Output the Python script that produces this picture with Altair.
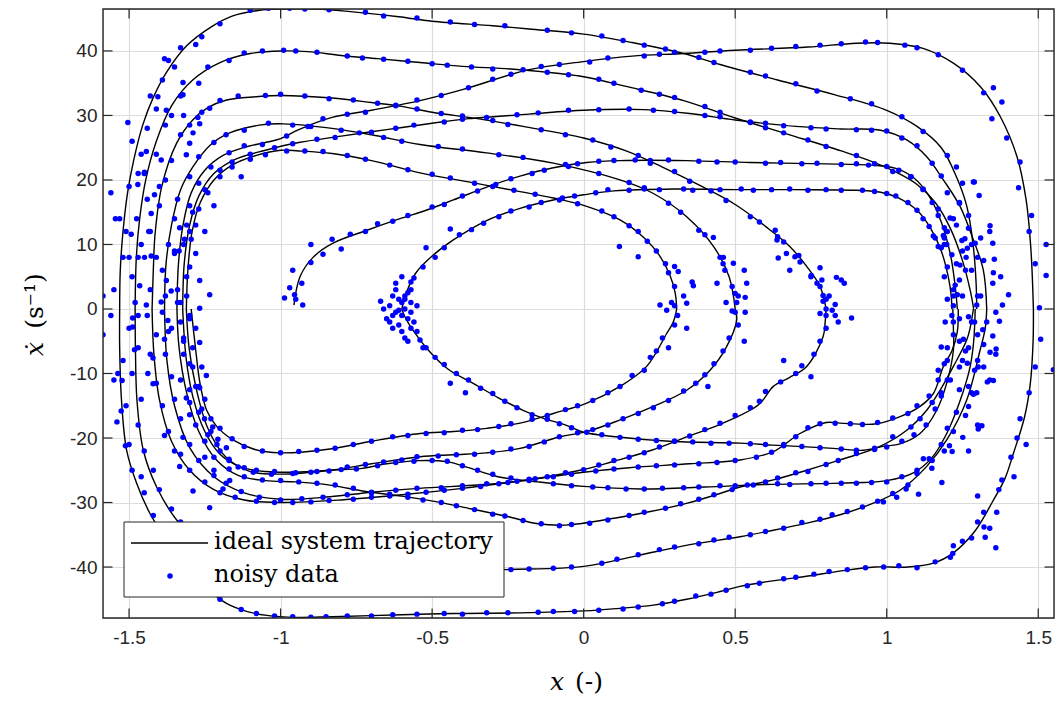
import altair as alt
import pandas as pd

X_TICKS = [-1.5, -1, -0.5, 0, 0.5, 1, 1.5]
Y_TICKS = [-40, -30, -20, -10, 0, 10, 20, 30, 40]

# ideal system trajectory, traced strand by strand (x, xdot)
TRAJ = {
    "T1": [(-1.531,0),(-1.529,6),(-1.52,12),(-1.505,18),(-1.485,23),(-1.455,28.5),(-1.42,32.8),(-1.375,36.8),(-1.31,40.8),(-1.23,43.7),(-1.16,45.4),(-1.07,46.3),(-1.0,46.5),(-0.88,46.5),(-0.77,46.1),(-0.61,45.3),(-0.5,44.6),(-0.3,43.9),(-0.18,43.4),(0,42.6),(0.16,41.3),(0.33,39.6),(0.45,37.9),(0.64,35.5),(0.83,33.2),(1.0,30.8),(1.1,28.3),(1.18,25),(1.23,20.5),(1.265,15.8),(1.285,10),(1.295,4),(1.297,0)],
    "C2": [(-1.48,0),(-1.476,8),(-1.465,14),(-1.445,20),(-1.41,26),(-1.36,31.5),(-1.29,35.5),(-1.2,38.2),(-1.1,39.6),(-1.0,40.0),(-0.91,39.9),(-0.8,39.3),(-0.68,38.8),(-0.54,38.2),(-0.4,37.6),(-0.24,37.2),(-0.08,36.5),(0,36.0),(0.14,34.5),(0.33,32.3),(0.5,29.6),(0.68,27.0),(0.85,24.5),(0.96,22.7),(1.04,21.0),(1.1,19.3),(1.16,16.5),(1.21,12.5),(1.25,7.5),(1.275,3),(1.287,0)],
    "I3t": [(-1.424,0),(-1.42,6),(-1.414,11.7),(-1.392,19),(-1.343,25.7),(-1.29,29.3),(-1.24,31.2),(-1.178,32.4),(-1.08,32.9),(-1.0,33.1),(-0.83,32.7),(-0.7,32.0),(-0.6,31.4),(-0.5,30.5),(-0.35,29.5),(-0.2,28.3),(0,26.5),(0.14,24.5),(0.26,22),(0.39,19),(0.5,16.2),(0.6,12.8),(0.68,9.7),(0.736,6.6),(0.78,3.5),(0.8,0)],
    "I2t": [(-1.383,0),(-1.378,7),(-1.36,13),(-1.33,18.5),(-1.29,22),(-1.23,25.5),(-1.168,27.3),(-1.07,28.5),(-0.99,28.7),(-0.83,28.0),(-0.7,27.0),(-0.54,25.5),(-0.32,24.2),(-0.1,22.6),(0.12,20),(0.23,17.9),(0.34,14.3),(0.43,9.6),(0.48,5),(0.5,0)],
    "T2": [(-1.342,0),(-1.337,7),(-1.322,13),(-1.295,18),(-1.25,21.5),(-1.19,23.8),(-1.124,25.0),(-1.05,25.8),(-1.0,26.4),(-0.94,27.8),(-0.83,29.7),(-0.7,30.8),(-0.54,32.3),(-0.4,34.0),(-0.18,37.1),(0,38.35),(0.16,39.2),(0.33,39.6),(0.5,40.1),(0.74,40.6),(0.9,41.2),(1.01,41.2),(1.12,40.4),(1.22,38.1),(1.31,34.4),(1.375,29.8),(1.43,23.6),(1.46,16.9),(1.476,9.1),(1.484,0)],
    "Cf": [(-1.323,0),(-1.318,7),(-1.3,13),(-1.27,17.5),(-1.22,21),(-1.15,23.2),(-1.05,24.6),(-0.94,25.8),(-0.8,26.8),(-0.65,27.8),(-0.5,28.8),(-0.38,29.5),(-0.18,30.2),(0,30.8),(0.2,30.9),(0.35,30.3),(0.5,29.3),(0.7,28.3),(0.85,27.9),(0.98,27.7),(1.066,26.2),(1.132,23.6),(1.187,20.0),(1.242,15.9),(1.286,10.7),(1.319,6.0),(1.33,0)],
    "I1t": [(-1.311,0),(-1.306,6),(-1.292,12),(-1.265,16.5),(-1.22,20),(-1.16,22.3),(-1.08,23.8),(-1.0,24.6),(-0.94,24.5),(-0.83,24.1),(-0.7,23),(-0.54,21.1),(-0.38,19.7),(-0.21,18.2),(-0.1,17.2),(0.01,15.9),(0.12,13.8),(0.2,11),(0.25,8.3),(0.285,5.2),(0.302,2.5),(0.307,0)],
    "S": [(-0.956,0.6),(-0.936,5),(-0.893,8),(-0.827,10.2),(-0.715,12.2),(-0.606,14.0),(-0.52,15.3),(-0.43,16.9),(-0.32,18.9),(-0.21,20.6),(-0.1,21.9),(0.01,22.7),(0.12,23.0),(0.34,23.0),(0.55,22.7),(0.8,22.5),(0.95,22.3),(1.03,21.8),(1.09,20.3),(1.14,17.5),(1.18,13.5),(1.21,8.5),(1.226,3.5),(1.233,0)],
    "C18": [(-0.6,0),(-0.585,2.5),(-0.555,5.5),(-0.5,8.2),(-0.43,10.7),(-0.32,13.7),(-0.21,15.6),(-0.1,16.9),(0,17.7),(0.1,18.3),(0.3,18.6),(0.5,18.5),(0.7,18.5),(0.9,18.4),(0.98,18.1),(1.04,17.2),(1.1,15.3),(1.145,12.5),(1.18,9),(1.203,5),(1.213,2),(1.215,0)],
    "BT2": [(1.484,0),(1.483,-5),(1.474,-11.5),(1.455,-16.7),(1.418,-22.4),(1.39,-26.3),(1.35,-29.8),(1.29,-34.5),(1.22,-37.8),(1.154,-39.4),(1.07,-40.0),(0.96,-40.0),(0.85,-40.6),(0.74,-41.4),(0.63,-42.1),(0.516,-43.0),(0.45,-43.8),(0.34,-45.0),(0.23,-45.9),(0.12,-46.4),(0,-46.8),(-0.21,-47.1),(-0.43,-47.2),(-0.6,-47.4),(-0.83,-47.7),(-0.95,-47.8),(-1.045,-47.5),(-1.11,-46.9),(-1.18,-45.6),(-1.25,-43),(-1.32,-39.5),(-1.38,-35.5),(-1.431,-31.7),(-1.475,-27.0),(-1.508,-21.9),(-1.525,-14.1),(-1.531,-6),(-1.531,0)],
    "B133": [(1.33,0),(1.325,-3),(1.308,-6.4),(1.264,-14.1),(1.198,-20.3),(1.132,-24.4),(1.044,-28.1),(0.956,-30.1),(0.846,-31.9),(0.736,-33.2),(0.626,-34.3),(0.516,-35.3),(0.342,-36.6),(0.17,-38.3),(0,-39.9),(-0.26,-40.4),(-0.6,-40.8),(-0.9,-40.6),(-1.1,-39.5),(-1.25,-37),(-1.343,-32.7),(-1.409,-27.6),(-1.453,-21.9),(-1.474,-14.1),(-1.479,-6),(-1.48,0)],
    "B1294": [(1.292,0),(1.287,-5),(1.275,-9),(1.24,-14.5),(1.198,-19.3),(1.15,-23),(1.088,-25.4),(1.0,-26.6),(0.846,-27.0),(0.6,-27.2),(0.4,-27.6),(0.189,-27.9),(0,-27.5),(-0.15,-26.8),(-0.283,-26.0),(-0.38,-24.6),(-0.448,-23.7),(-0.542,-23.5),(-0.65,-24.0),(-0.731,-24.7),(-0.837,-25.0),(-0.95,-25.3),(-1.05,-25.2),(-1.13,-24.5),(-1.2,-22.5),(-1.25,-19),(-1.29,-13.5),(-1.312,-7.5),(-1.323,0)],
    "B1286": [(1.286,0),(1.275,-3),(1.264,-4.8),(1.22,-8.9),(1.176,-12.6),(1.132,-15.7),(1.066,-18.8),(0.978,-21.3),(0.846,-23.4),(0.736,-25.0),(0.626,-26.5),(0.516,-27.6),(0.45,-28.6),(0.342,-30.1),(0.22,-31.4),(0.106,-32.4),(-0.059,-33.5),(-0.15,-33.3),(-0.248,-32.2),(-0.37,-31.0),(-0.483,-29.9),(-0.6,-29.0),(-0.719,-28.3),(-0.837,-27.3),(-0.95,-26.8),(-1.05,-26.6),(-1.14,-25.8),(-1.21,-23.5),(-1.27,-19),(-1.31,-13),(-1.335,-6),(-1.342,0)],
    "Ba": [(1.218,0),(1.22,-3),(1.22,-6.4),(1.198,-11.5),(1.165,-15.7),(1.11,-19.3),(1.044,-20.9),(0.989,-21.3),(0.923,-21.9),(0.824,-21.6),(0.625,-21.1),(0.516,-20.8),(0.283,-20.5),(0.106,-19.8),(0,-19.1),(-0.059,-18.0),(-0.13,-17),(-0.2,-15.7),(-0.28,-13.8),(-0.366,-11.5),(-0.448,-9.3),(-0.51,-6.5),(-0.56,-3.5),(-0.59,-1.2),(-0.6,0)],
    "Bb": [(1.236,0),(1.233,-3.5),(1.215,-6.5),(1.187,-8.9),(1.154,-13.1),(1.11,-15.1),(1.044,-16.7),(0.967,-17.8),(0.846,-17.7),(0.8,-17.6),(0.714,-19.3),(0.626,-22.1),(0.516,-23.4),(0.35,-24.0),(0.15,-24.6),(0,-25.3),(-0.2,-26.6),(-0.4,-27.8),(-0.6,-28.8),(-0.8,-29.6),(-1.0,-30.0),(-1.12,-29.6),(-1.22,-28),(-1.3,-25),(-1.36,-20.5),(-1.4,-14),(-1.418,-7),(-1.424,0)],
    "I1b": [(0.307,0),(0.296,-2),(0.274,-3.8),(0.208,-8.9),(0.12,-12),(0.01,-14.6),(-0.1,-16.2),(-0.21,-17.7),(-0.32,-18.5),(-0.43,-19.0),(-0.54,-19.3),(-0.7,-20.5),(-0.837,-21.7),(-1.002,-22.3),(-1.09,-21.7),(-1.157,-20.3),(-1.211,-18.2),(-1.244,-15.7),(-1.266,-11.5),(-1.28,-6.4),(-1.295,0)],
    "I2b": [(0.5,0),(0.505,-1.7),(0.47,-6),(0.417,-9.5),(0.34,-12.6),(0.23,-15.1),(0.12,-17.2),(0.01,-19.0),(-0.078,-19.8),(-0.21,-21.6),(-0.32,-22.3),(-0.43,-22.6),(-0.54,-22.9),(-0.7,-24.0),(-0.837,-25.0),(-1.0,-25.6),(-1.1,-25.2),(-1.18,-23.0),(-1.24,-18.5),(-1.28,-12),(-1.302,-6),(-1.311,0)],
    "I3b": [(0.8,0),(0.797,-2),(0.79,-4.3),(0.736,-8.9),(0.68,-10.6),(0.626,-12),(0.578,-14.8),(0.46,-17.7),(0.342,-19.8),(0.224,-21.9),(0.1,-23.6),(-0.012,-25.0),(-0.248,-26.9),(-0.542,-27.8),(-0.7,-28.4),(-0.837,-29.1),(-1.0,-29.5),(-1.12,-28.5),(-1.22,-26),(-1.3,-21.5),(-1.35,-15),(-1.375,-8),(-1.383,0)],
}

NOISY = {
    "T1": [(-1.55,3),(-1.52,8),(-1.545,14),(-1.5,19),(-1.47,21),(-1.49,26),(-1.44,28),(-1.43,33),(-1.39,35.5),(-1.37,38.5),(-1.33,40.5),(-1.26,42.2),(-1.2,44.2),(-1.1,46.3),(-1.04,46.6),(-0.97,46.6),(-0.92,46.5),(-0.84,46.4),(-0.72,46.0),(-0.66,45.4),(-0.55,45.1),(-0.44,44.5),(-0.36,44.1),(-0.26,43.9),(-0.12,43.2),(-0.04,42.8),(0.06,42.3),(0.13,41.6),(0.2,40.9),(0.27,40.3),(0.38,39.0),(0.43,38.2),(0.55,36.7),(0.6,36.1),(0.7,34.9),(0.77,33.8),(0.88,32.6),(0.95,31.8),(1.05,29.8),(1.12,27.5),(1.2,23.8),(1.25,19.5),(1.27,14.5),(1.31,11),(1.28,6),(1.3,2),(-1.56,18),(-1.51,12),(-1.46,24),(-1.41,31),(-1.35,37.5),(-1.28,41),(1.23,22),(1.3,8)],
    "C2": [(-1.47,-1),(-1.49,5),(-1.46,10),(-1.475,14),(-1.44,17),(-1.45,21),(-1.41,24),(-1.38,28.5),(-1.36,30),(-1.33,33),(-1.27,35),(-1.24,37.5),(-1.17,38.5),(-1.12,39.7),(-1.06,40.0),(-0.99,40.1),(-0.95,40.0),(-0.88,39.8),(-0.78,39.2),(-0.73,38.9),(-0.66,38.7),(-0.58,38.4),(-0.5,38.0),(-0.45,37.8),(-0.37,37.5),(-0.3,37.2),(-0.2,37.1),(-0.12,36.7),(-0.05,36.3),(0.05,35.6),(0.1,35.0),(0.19,33.9),(0.25,33.3),(0.3,32.8),(0.4,31.4),(0.45,30.5),(0.55,28.9),(0.6,28.1),(0.66,27.3),(0.74,26.2),(0.8,25.2),(0.9,23.8),(0.96,22.5),(1.02,21.3),(1.08,20.5),(1.12,18.5),(1.17,15.5),(1.23,13),(1.19,11),(1.26,6),(1.25,2),(-1.5,8),(-1.43,12),(-1.4,19),(-1.32,30)],
    "I3t": [(-1.43,3),(-1.41,8),(-1.435,12),(-1.4,16),(-1.38,20),(-1.36,23),(-1.33,27),(-1.3,28.5),(-1.26,30.5),(-1.2,32.3),(-1.14,33.0),(-1.05,33.1),(-1.0,33.3),(-0.92,33.0),(-0.84,32.6),(-0.76,32.4),(-0.68,31.9),(-0.62,31.6),(-0.55,31.0),(-0.47,30.3),(-0.4,29.9),(-0.3,29.2),(-0.25,28.6),(-0.14,27.8),(-0.06,27.0),(0.03,26.2),(0.09,25.1),(0.18,23.8),(0.22,22.6),(0.3,21.3),(0.35,19.8),(0.42,18.3),(0.47,16.8),(0.55,14.3),(0.58,13.5),(0.64,11.2),(0.66,10.4),(0.71,8.3),(0.75,5.0),(0.77,4.0),(0.81,2.0),(0.79,1.2),(0.85,4.5),(0.83,-1),(0.68,6)],
    "I2t": [(-1.38,2),(-1.39,6),(-1.37,10),(-1.35,14),(-1.34,17),(-1.3,20.5),(-1.27,23.6),(-1.22,25.8),(-1.18,27.0),(-1.12,27.7),(-1.04,28.8),(-0.96,28.5),(-0.9,28.3),(-0.8,27.7),(-0.74,27.3),(-0.66,26.6),(-0.6,26.0),(-0.48,25.2),(-0.4,24.8),(-0.28,23.9),(-0.2,23.5),(-0.05,22.1),(0.05,21.0),(0.15,19.6),(0.2,18.8),(0.28,16.4),(0.32,15.0),(0.38,12.2),(0.4,11.5),(0.45,8.0),(0.46,7.0),(0.49,3.5),(0.51,2.0),(0.47,1.0),(0.53,6),(0.44,4)],
    "T2": [(-1.34,3),(-1.35,9),(-1.31,13),(-1.3,16),(-1.27,19.5),(-1.23,22),(-1.17,24.2),(-1.12,25.3),(-1.06,25.5),(-0.98,26.8),(-0.91,28.3),(-0.86,29.5),(-0.78,30.2),(-0.72,30.5),(-0.62,31.5),(-0.55,32.4),(-0.47,33.1),(-0.38,34.3),(-0.3,35.6),(-0.24,36.4),(-0.14,37.6),(-0.08,37.9),(0.02,38.3),(0.08,38.9),(0.2,39.2),(0.25,39.5),(0.3,39.8),(0.4,39.8),(0.45,40.0),(0.55,40.1),(0.62,40.4),(0.7,40.7),(0.78,40.9),(0.85,41.1),(0.93,41.4),(0.97,41.3),(1.06,40.9),(1.1,40.5),(1.17,39.4),(1.25,37.0),(1.32,33.5),(1.352,34.3),(1.38,32.1),(1.347,29.5),(1.396,26.5),(1.44,22.8),(1.435,18.8),(1.478,14.5),(1.47,12),(1.526,10),(1.49,7),(1.526,5.2),(1.504,0.2)],
    "Cf": [(-1.33,1),(-1.31,5),(-1.335,9),(-1.3,12),(-1.29,15),(-1.25,18.5),(-1.2,21.5),(-1.16,22.8),(-1.1,24.0),(-1.02,25.0),(-0.96,25.6),(-0.88,26.3),(-0.82,26.6),(-0.7,27.4),(-0.62,28.0),(-0.56,28.5),(-0.46,29.0),(-0.4,29.4),(-0.32,29.7),(-0.22,30.1),(-0.15,30.4),(-0.05,30.8),(0.05,30.9),(0.15,31.0),(0.23,30.8),(0.3,30.6),(0.4,30.0),(0.45,29.8),(0.55,29.0),(0.6,28.8),(0.66,28.4),(0.75,28.1),(0.8,27.9),(0.9,27.8),(0.95,27.7),(1.0,27.6),(1.05,26.5),(1.1,25.3),(1.15,22.6),(1.18,20.6),(1.2,18.0),(1.24,16.5),(1.27,12.5),(1.28,10.0),(1.32,7.5),(1.35,4.0),(1.31,2.0),(1.25,9),(1.34,12),(1.22,14)],
    "I1t": [(-1.31,2),(-1.3,6.5),(-1.32,10),(-1.28,13),(-1.27,15.5),(-1.24,18),(-1.2,20.5),(-1.16,22),(-1.1,23.2),(-1.05,23.9),(-0.98,24.5),(-0.92,24.5),(-0.86,24.4),(-0.78,23.8),(-0.72,23.2),(-0.64,22.3),(-0.58,21.6),(-0.5,20.9),(-0.44,20.3),(-0.36,19.5),(-0.3,19.0),(-0.23,18.4),(-0.16,17.8),(-0.08,16.9),(-0.02,16.3),(0.06,15.2),(0.1,14.3),(0.15,12.9),(0.18,12.0),(0.21,10.5),(0.24,9.0),(0.27,7.0),(0.28,5.6),(0.3,3.5),(0.33,2.0),(0.29,1.0),(-1.25,12),(-1.22,16),(-1.13,20.5)],
    "S": [(-0.987,1.7),(-0.97,3.3),(-0.954,2.2),(-0.927,0.6),(-0.95,1.5),(-0.93,4),(-0.96,6),(-0.9,7.2),(-0.86,8.5),(-0.83,10.8),(-0.77,11.6),(-0.72,12.0),(-0.68,13.2),(-0.63,13.6),(-0.58,14.5),(-0.5,15.8),(-0.46,16.2),(-0.4,17.5),(-0.35,18.3),(-0.29,19.3),(-0.24,20.2),(-0.17,21.0),(-0.13,21.5),(-0.06,22.4),(-0.02,22.5),(0.05,22.9),(0.1,23.0),(0.17,23.1),(0.22,23.0),(0.28,23.1),(0.38,22.9),(0.44,22.8),(0.5,22.8),(0.6,22.6),(0.65,22.7),(0.72,22.5),(0.77,22.6),(0.85,22.4),(0.9,22.5),(0.94,22.3),(1.0,22.1),(1.04,21.5),(1.08,20.5),(1.12,18.6),(1.15,16.5),(1.17,14.5),(1.2,12.0),(1.19,10.0),(1.23,7.0),(1.24,4.5),(1.22,2.0),(-0.9,10),(-0.8,9.3)],
    "C18": [(-0.59,1.5),(-0.57,3),(-0.56,4.8),(-0.53,6.5),(-0.49,8.0),(-0.46,9.5),(-0.41,11.5),(-0.37,12.3),(-0.33,13.3),(-0.28,14.3),(-0.24,15.2),(-0.18,15.8),(-0.14,16.5),(-0.07,17.2),(-0.03,17.5),(0.04,18.0),(0.08,18.5),(0.15,18.4),(0.2,18.6),(0.25,18.5),(0.33,18.6),(0.36,18.4),(0.45,18.5),(0.52,18.6),(0.56,18.4),(0.62,18.5),(0.68,18.6),(0.74,18.4),(0.8,18.5),(0.85,18.4),(0.92,18.4),(0.96,18.2),(1.0,17.9),(1.03,17.5),(1.07,16.5),(1.1,15.3),(1.12,14.0),(1.14,12.8),(1.16,11.0),(1.18,9.5),(1.2,6.5),(1.19,5.0),(1.22,3.0),(1.2,1.5),(-0.52,9.5),(-0.44,12.4)],
    "cluster": [(-0.62,-0.5),(-0.6,1),(-0.58,-1.5),(-0.64,0.5),(-0.61,-2.5),(-0.59,0),(-0.63,2),(-0.57,1),(-0.6,-3.5),(-0.65,-1.5),(-0.56,-2),(-0.62,3),(-0.58,2.5),(-0.6,-1),(-0.63,-3),(-0.66,0),(-0.55,0.5),(-0.61,1.5),(-0.59,-4.5),(-0.57,-0.5),(-0.64,-2),(-0.62,4),(-0.58,-5),(-0.53,-6),(-0.55,-3.5),(-0.6,5),(-0.57,4.2),(-0.61,-0.2),(-0.59,2),(-0.63,-1),(-0.67,1.2)],
    "BT2": [(1.508,-4.7),(1.55,-9.4),(1.49,-9),(1.47,-13),(1.44,-17),(1.43,-20),(1.41,-23),(1.38,-26.5),(1.37,-28),(1.32,-31.5),(1.3,-33),(1.25,-36),(1.21,-38.5),(1.16,-39.2),(1.1,-40.1),(1.04,-39.8),(0.99,-40.0),(0.93,-40.1),(0.87,-40.4),(0.81,-40.7),(0.76,-41.1),(0.7,-41.6),(0.66,-41.8),(0.58,-42.5),(0.54,-42.9),(0.47,-43.6),(0.42,-44.2),(0.37,-44.5),(0.3,-45.3),(0.26,-45.7),(0.18,-46.2),(0.13,-46.5),(0.05,-46.7),(-0.03,-46.9),(-0.1,-46.9),(-0.15,-47.0),(-0.25,-47.1),(-0.32,-47.1),(-0.4,-47.3),(-0.46,-47.2),(-0.55,-47.3),(-0.63,-47.4),(-0.7,-47.6),(-0.78,-47.6),(-0.85,-47.7),(-0.9,-47.8),(-0.96,-47.7),(-1.02,-47.6),(-1.08,-47.2),(-1.13,-46.6),(-1.2,-45.0),(-1.42,-32),(-1.45,-28.5),(-1.49,-25),(-1.5,-21),(-1.54,-17.5),(-1.51,-15),(-1.55,-11),(-1.52,-8),(-1.586,-4),(-1.56,-1),(-1.586,2),(1.46,-21),(1.42,-26),(1.3,-29),(1.34,-34),(1.36,-37),(1.28,-35.5)],
    "B133": [(1.33,-2),(1.32,-5.5),(1.3,-8),(1.34,-11),(1.28,-13),(1.26,-16.5),(1.22,-19),(1.19,-22),(1.15,-23.5),(1.1,-25.5),(1.07,-27.3),(1.02,-28.6),(0.97,-29.8),(0.92,-30.7),(0.87,-31.4),(0.82,-31.9),(0.78,-32.6),(0.72,-33.1),(0.66,-34.0),(0.6,-34.5),(0.55,-35.0),(0.48,-35.4),(0.43,-35.8),(0.38,-36.4),(0.3,-36.9),(0.25,-37.3),(0.18,-38.1),(0.11,-38.8),(0.06,-39.4),(-0.04,-40.0),(-0.1,-40.2),(-0.18,-40.3),(-0.24,-40.4),(-1.27,-36),(-1.33,-33),(-1.36,-31),(-1.4,-28),(-1.42,-25),(-1.45,-22),(-1.47,-18),(-1.46,-14),(-1.49,-10),(-1.47,-6),(-1.5,-3),(-1.48,1),(1.36,-7),(1.3,-18),(1.27,-22)],
    "B1294": [(1.29,-2),(1.27,-6),(1.29,-9.5),(1.24,-12.5),(1.23,-16),(1.2,-18.5),(1.18,-21),(1.14,-23.2),(1.1,-25),(1.05,-26),(1.0,-26.8),(0.95,-26.9),(0.9,-27.0),(0.85,-27.0),(0.8,-27.0),(0.75,-27.1),(0.68,-27.2),(0.64,-27.1),(0.56,-27.3),(0.5,-27.4),(0.45,-27.4),(0.38,-27.6),(0.33,-27.7),(0.26,-27.8),(0.2,-27.9),(0.14,-27.9),(0.08,-27.7),(0.03,-27.6),(-0.04,-27.4),(-0.1,-27.1),(-0.18,-26.6),(-0.24,-26.2),(-0.3,-25.6),(-0.35,-25.0),(-0.4,-24.3),(-0.45,-23.6),(-0.5,-23.5),(-0.56,-23.6),(-0.62,-23.8),(-0.68,-24.3),(-0.75,-24.8),(-0.8,-24.9),(-0.88,-25.2),(-0.95,-25.4),(-1.02,-25.2),(-1.08,-25.0),(-1.12,-24.6),(-1.17,-23.5),(-1.2,-22),(-1.24,-19.5),(-1.27,-16),(-1.3,-12.5),(-1.29,-9),(-1.32,-5),(-1.33,-2),(-1.25,-23),(-1.22,-25)],
    "B1286": [(1.28,-2),(1.3,-4),(1.26,-6.5),(1.24,-9),(1.2,-11),(1.18,-13.5),(1.15,-14.5),(1.11,-17),(1.08,-18.3),(1.02,-19.8),(0.96,-21.6),(0.9,-22.4),(0.84,-23.5),(0.8,-24.1),(0.74,-25.2),(0.7,-25.4),(0.64,-26.2),(0.6,-26.8),(0.54,-27.3),(0.49,-28.0),(0.43,-28.8),(0.38,-29.5),(0.32,-30.2),(0.27,-30.9),(0.2,-31.5),(0.15,-32.0),(0.08,-32.7),(0.02,-33.2),(-0.04,-33.4),(-0.08,-33.6),(-0.14,-33.3),(-0.2,-32.8),(-0.26,-32.1),(-0.3,-31.8),(-0.36,-31.1),(-0.42,-30.5),(-0.47,-30.0),(-0.53,-29.6),(-0.58,-29.2),(-0.64,-28.7),(-0.7,-28.4),(-0.76,-27.8),(-0.82,-27.3),(-0.88,-27.0),(-0.94,-26.8),(-1.0,-26.6),(-1.06,-26.5),(-1.12,-26.0),(-1.17,-24.8),(-1.22,-23),(-1.25,-20.5),(-1.28,-18),(-1.3,-14.5),(-1.33,-11),(-1.32,-7),(-1.36,-3),(-1.34,1),(1.32,-9),(1.27,-12)],
    "Ba": [(1.22,-2),(1.24,-5),(1.2,-8),(1.21,-11),(1.18,-13),(1.16,-15.5),(1.13,-18),(1.09,-19.5),(1.05,-20.5),(1.0,-21.4),(0.96,-21.8),(0.9,-21.9),(0.85,-21.7),(0.78,-21.5),(0.72,-21.3),(0.66,-21.2),(0.6,-21.0),(0.55,-20.9),(0.48,-20.8),(0.42,-20.8),(0.36,-20.6),(0.3,-20.5),(0.24,-20.4),(0.18,-20.2),(0.12,-19.9),(0.06,-19.5),(0.01,-19.1),(-0.04,-18.4),(-0.08,-17.8),(-0.12,-17.1),(-0.17,-16.4),(-0.22,-15.3),(-0.26,-14.3),(-0.3,-13.1),(-0.34,-12.3),(-0.38,-11.0),(-0.42,-10.0),(-0.46,-8.6),(-0.49,-7.5),(-0.52,-6.0),(-0.54,-4.8),(-0.57,-3.0),(-0.39,-13),(-0.44,-11.5),(1.25,-8),(1.17,-9.5)],
    "Bb": [(1.24,-1.5),(1.22,-4),(1.2,-6),(1.19,-8.5),(1.17,-11),(1.14,-13.5),(1.1,-15),(1.07,-16.2),(1.02,-16.9),(0.97,-17.6),(0.92,-17.9),(0.88,-17.8),(0.83,-17.7),(0.78,-17.8),(0.74,-18.4),(0.7,-19.8),(0.66,-21),(0.62,-22.2),(0.57,-23),(0.5,-23.5),(0.44,-23.8),(0.38,-24.0),(0.3,-24.2),(0.24,-24.3),(0.18,-24.5),(0.1,-24.8),(0.04,-25.1),(-0.04,-25.6),(-0.1,-26.0),(-0.16,-26.3),(-0.22,-26.7),(-0.28,-27.1),(-0.34,-27.5),(-0.4,-27.8),(-0.46,-28.1),(-0.52,-28.4),(-0.58,-28.7),(-0.64,-29.0),(-0.7,-29.2),(-0.76,-29.5),(-0.84,-29.7),(-0.9,-29.9),(-0.96,-30.0),(-1.02,-30.0),(-1.08,-29.8),(-1.15,-29.2),(-1.2,-28.5),(-1.25,-26.8),(-1.3,-25),(-1.33,-22.5),(-1.37,-19),(-1.39,-15),(-1.41,-11.5),(-1.43,-7),(-1.41,-4),(-1.44,-1)],
    "I1b": [(0.31,-1),(0.3,-2.5),(0.26,-4.5),(0.28,-6),(0.22,-7.5),(0.2,-9.5),(0.16,-10.3),(0.12,-12),(0.08,-13),(0.03,-14.2),(-0.02,-15),(-0.06,-15.6),(-0.12,-16.5),(-0.17,-17.1),(-0.24,-17.8),(-0.28,-18.2),(-0.35,-18.7),(-0.4,-18.8),(-0.46,-19.2),(-0.52,-19.3),(-0.58,-19.6),(-0.63,-19.8),(-0.7,-20.5),(-0.76,-21.0),(-0.82,-21.6),(-0.88,-21.9),(-0.94,-22.1),(-1.0,-22.3),(-1.06,-22.0),(-1.12,-21.3),(-1.16,-20.1),(-1.2,-18.5),(-1.23,-17),(-1.25,-14),(-1.27,-12),(-1.26,-9),(-1.29,-6),(-1.28,-3),(-1.3,-1),(0.34,-3),(0.24,-6.5)],
    "I2b": [(0.5,-0.5),(0.51,-2.5),(0.48,-4.5),(0.46,-6.5),(0.43,-8.5),(0.4,-10.2),(0.37,-11.5),(0.33,-12.7),(0.28,-14.2),(0.23,-15.3),(0.18,-16.2),(0.13,-17.0),(0.08,-18.0),(0.03,-18.7),(-0.02,-19.2),(-0.08,-19.8),(-0.13,-20.6),(-0.18,-21.3),(-0.24,-21.7),(-0.3,-22.2),(-0.36,-22.5),(-0.42,-22.6),(-0.48,-22.8),(-0.55,-22.9),(-0.6,-23.4),(-0.66,-23.7),(-0.72,-24.1),(-0.78,-24.5),(-0.84,-25.1),(-0.9,-25.3),(-0.96,-25.5),(-1.03,-25.6),(-1.09,-25.3),(-1.14,-24.5),(-1.17,-23.3),(-1.21,-21),(-1.23,-19),(-1.26,-15.5),(-1.28,-12),(-1.3,-8.5),(-1.32,-4.5),(-1.3,-1.5),(0.53,-5),(0.41,-12)],
    "I3b": [(0.8,-1),(0.8,-3),(0.78,-5),(0.76,-7),(0.72,-8.8),(0.7,-10),(0.65,-11.3),(0.6,-12.8),(0.58,-14.3),(0.55,-15.3),(0.5,-16.5),(0.45,-17.7),(0.4,-18.7),(0.35,-19.7),(0.3,-20.5),(0.25,-21.4),(0.2,-22.3),(0.15,-23.0),(0.1,-23.5),(0.05,-24.2),(0.0,-24.9),(-0.06,-25.4),(-0.12,-26.0),(-0.18,-26.4),(-0.25,-26.9),(-0.32,-27.1),(-0.4,-27.4),(-0.47,-27.7),(-0.55,-27.8),(-0.62,-28.1),(-0.7,-28.5),(-0.78,-28.8),(-0.86,-29.2),(-0.93,-29.4),(-1.0,-29.6),(-1.07,-29.2),(-1.13,-28.3),(-1.18,-27),(-1.22,-25.8),(-1.27,-23.5),(-1.3,-21),(-1.33,-17),(-1.35,-14),(-1.36,-10.5),(-1.38,-7),(-1.37,-3.5),(-1.39,-0.5),(0.84,-2),(0.75,-10.5),(0.66,-8)],
    "left_scatter": [(-1.504,28.9),(-1.531,14.0),(-1.493,11.6),(-1.47,8.0),(-1.449,8.0),(-1.427,8.2),(-1.465,3.6),(-1.443,0.6),(-1.488,-1.4),(-1.488,-2.8),(-1.482,-6.3),(-1.537,-10.0),(-1.523,-11.1),(-1.526,-15.8),(-1.512,-21.2),(-1.46,-26),(-1.438,-10),(-1.421,-7.6),(-1.383,-4.7),(-1.372,-1.8),(-1.394,1.1),(-1.377,4.4),(-1.361,2.8),(-1.35,8.6),(-1.333,12.6),(-1.317,10.8),(-1.295,10.8),(-1.28,8.6),(-1.267,4.4),(-1.267,0.1),(-1.267,-5.2),(-1.245,-10.3),(-1.234,2.2),(-1.421,-11.6),(-1.383,-19.6),(-1.35,-22.0),(-1.333,-24.4),(-1.322,-19.9),(-1.3,-16.4),(-1.311,-13.8),(-1.267,-12.2),(-1.251,-17),(-1.224,-18.3),(-1.207,-20.2),(-1.179,-21.5),(-1.168,-26.6),(-1.289,-28.2),(-1.234,-30.8),(-1.19,-27.9),(-1.405,32.9),(-1.394,23.1),(-1.443,24.4),(-1.449,21.2),(-1.471,19.3),(-1.416,17.7),(-1.427,14.8),(-1.377,30.8),(-1.383,38.8),(-1.322,35.1),(-1.322,33.2),(-1.273,29.7),(-1.234,31.1),(-1.267,28.7),(-1.3,25.7),(-1.311,23.9),(-1.289,27.3)],
    "right_scatter": [(1.363,-31.5),(1.321,-33.8),(1.325,-35.4),(1.22,-36.7),(1.218,-37.9),(1.286,19.7),(1.305,17.6),(1.341,12.9),(1.35,10.2),(1.355,7.7),(1.352,5.6),(1.376,5.0),(1.402,2.2),(1.382,0.6),(1.36,-0.5),(1.372,-1.9),(1.35,-4.2),(1.361,-6.2),(1.341,-6.7),(1.352,-11.1),(1.332,-11.3),(1.302,-9),(1.317,-3.2),(1.297,0.6),(1.27,-1.2),(1.253,-4.7),(1.266,-8.4),(1.297,-13),(1.314,-18.1),(1.302,-18.6),(1.286,-13.2),(1.27,-15.1),(1.251,-19.9),(1.216,-22.1),(1.207,-21.2),(1.182,-26.9),(1.149,-24.7),(1.121,-23.2),(1.105,-28.7),(1.064,-27.9),(1.033,-29.2),(0.989,-29.9),(1.18,-5.9),(1.193,-2.0),(1.215,-1.0),(1.22,0.5),(1.233,2.2),(1.226,3.7),(1.242,6.8),(1.262,8.0),(1.266,9.4),(1.292,10.2),(1.258,10.9),(1.248,10.6),(1.187,11.4),(1.198,10),(1.215,8.4),(1.154,11.3),(1.17,9.7),(1.19,12.6),(1.209,14.1),(1.24,16.4),(1.289,19.7)],
    "inner_scatter": [(0.118,9.7),(0.18,8.1),(0.252,0.6),(0.274,-0.2),(0.34,0.9),(0.362,3.6),(0.358,4.2),(0.312,5.8),(0.3,6.6),(0.3,0.5),(0.428,11.1),(0.461,8.0),(0.466,6.0),(0.494,7.1),(0.5,2.4),(0.505,1.0),(0.49,-0.3),(0.632,12.2),(0.638,10.7),(0.642,7.9),(0.669,8.6),(0.697,8.1),(0.714,7.3),(0.751,5.2),(0.78,6.4),(0.786,4.5),(0.834,4.9),(0.86,4.0),(0.884,-1.4),(0.78,3.5),(0.79,2.1),(0.8,1.5),(0.8,0),(0.78,-0.7),(0.82,-0.2),(0.83,0.7),(0.538,4.0),(0.533,1.8),(0.533,-0.5)],
}

LEGEND_LABELS = ["ideal system trajectory", "noisy data"]

traj_rows = []
for seg, pts in TRAJ.items():
    for i, (px, py) in enumerate(pts):
        traj_rows.append({"seg": seg, "i": i, "x": px, "y": py})
traj_df = pd.DataFrame(traj_rows)
dots_df = pd.DataFrame([{"x": px, "y": py} for pts in NOISY.values() for (px, py) in pts])

W, H = 951, 609
TICK = 9.5
FRAME = "#262626"
DOT = 30
xs = alt.Scale(domain=[-1.586, 1.552], nice=False, zero=False)
ys = alt.Scale(domain=[-47.9, 46.5], nice=False, zero=False)

x_axis = alt.Axis(values=X_TICKS, grid=True, ticks=False, tickSize=0, domain=False,
                  labelExpr="datum.value + ''", title=None, labelFont="Liberation Sans",
                  labelFontSize=19, labelColor=FRAME, labelPadding=10,
                  gridColor="#dcdcdc", gridWidth=1.2, labelFlush=False)
y_axis = alt.Axis(values=Y_TICKS, grid=True, ticks=False, tickSize=0, domain=False,
                  labelExpr="datum.value + ''", title=None, labelFont="Liberation Sans",
                  labelFontSize=19, labelColor=FRAME, labelPadding=6,
                  gridColor="#dcdcdc", gridWidth=1.2)

lines = alt.Chart(traj_df).mark_line(color="black", strokeWidth=1.4, clip=True,
                                     interpolate="catmull-rom").encode(
    x=alt.X("x:Q", scale=xs, axis=x_axis),
    y=alt.Y("y:Q", scale=ys, axis=y_axis),
    detail="seg:N",
    order="i:Q",
)

dots = alt.Chart(dots_df).mark_circle(color="#0000ff", size=DOT, opacity=1, clip=True).encode(
    x=alt.X("x:Q", scale=xs, axis=x_axis),
    y=alt.Y("y:Q", scale=ys, axis=y_axis),
)

xt_df = pd.DataFrame({"x": X_TICKS})
yt_df = pd.DataFrame({"y": Y_TICKS})
tick_b = alt.Chart(xt_df).mark_rule(color=FRAME, strokeWidth=1.2).encode(
    x=alt.X("x:Q", scale=xs, axis=x_axis), y=alt.value(H), y2=alt.value(H - TICK))
tick_t = alt.Chart(xt_df).mark_rule(color=FRAME, strokeWidth=1.2).encode(
    x=alt.X("x:Q", scale=xs, axis=x_axis), y=alt.value(0), y2=alt.value(TICK))
tick_l = alt.Chart(yt_df).mark_rule(color=FRAME, strokeWidth=1.2).encode(
    y=alt.Y("y:Q", scale=ys, axis=y_axis), x=alt.value(0), x2=alt.value(TICK))
tick_r = alt.Chart(yt_df).mark_rule(color=FRAME, strokeWidth=1.2).encode(
    y=alt.Y("y:Q", scale=ys, axis=y_axis), x=alt.value(W), x2=alt.value(W - TICK))

one = pd.DataFrame({"a": [0]})
frame = alt.Chart(one).mark_rect(fill=None, stroke=FRAME, strokeWidth=1.4).encode(
    x=alt.value(0), x2=alt.value(W), y=alt.value(0), y2=alt.value(H))
leg_box = alt.Chart(one).mark_rect(fill="white", stroke=FRAME, strokeWidth=1).encode(
    x=alt.value(21), x2=alt.value(401), y=alt.value(513), y2=alt.value(588))
leg_line = alt.Chart(one).mark_rule(color="black", strokeWidth=1.4).encode(
    x=alt.value(28), x2=alt.value(105), y=alt.value(534))
leg_dot = alt.Chart(one).mark_circle(color="#0000ff", size=DOT, opacity=1).encode(
    x=alt.value(67), y=alt.value(567))
leg_t1 = alt.Chart(one).mark_text(text=LEGEND_LABELS[0], font="DejaVu Serif", fontSize=24,
                                  align="left", baseline="middle", color="black").encode(
    x=alt.value(111), y=alt.value(533))
leg_t2 = alt.Chart(one).mark_text(text=LEGEND_LABELS[1], font="DejaVu Serif", fontSize=24,
                                  align="left", baseline="middle", color="black").encode(
    x=alt.value(111), y=alt.value(566))

xt1 = alt.Chart(one).mark_text(text="x", font="DejaVu Serif", fontStyle="italic", fontSize=25,
                               align="center", baseline="alphabetic", color="black").encode(
    x=alt.value(454), y=alt.value(681))
xt2 = alt.Chart(one).mark_text(text="(-)", font="DejaVu Serif", fontSize=25,
                               align="center", baseline="alphabetic", color="black").encode(
    x=alt.value(486), y=alt.value(681))
yt1 = alt.Chart(one).mark_text(text="ẋ", font="DejaVu Serif", fontStyle="italic", fontSize=25,
                               align="center", baseline="middle", angle=270, color="black").encode(
    x=alt.value(-68), y=alt.value(340))
yt2 = alt.Chart(one).mark_text(text="(s⁻¹)", font="DejaVu Serif", fontSize=25,
                               align="center", baseline="middle", angle=270, color="black").encode(
    x=alt.value(-68), y=alt.value(292))

chart = alt.layer(
    lines, dots, tick_b, tick_t, tick_l, tick_r, frame,
    leg_box, leg_line, leg_dot, leg_t1, leg_t2, xt1, xt2, yt1, yt2
).properties(
    width=W, height=H,
    autosize=alt.AutoSizeParams(type="none"),
    padding={"left": 103, "top": 9, "right": 7, "bottom": 84},
).configure_view(stroke=None).configure(background="white")

chart.save("out.html", embed_options={"renderer": "svg", "actions": False})
